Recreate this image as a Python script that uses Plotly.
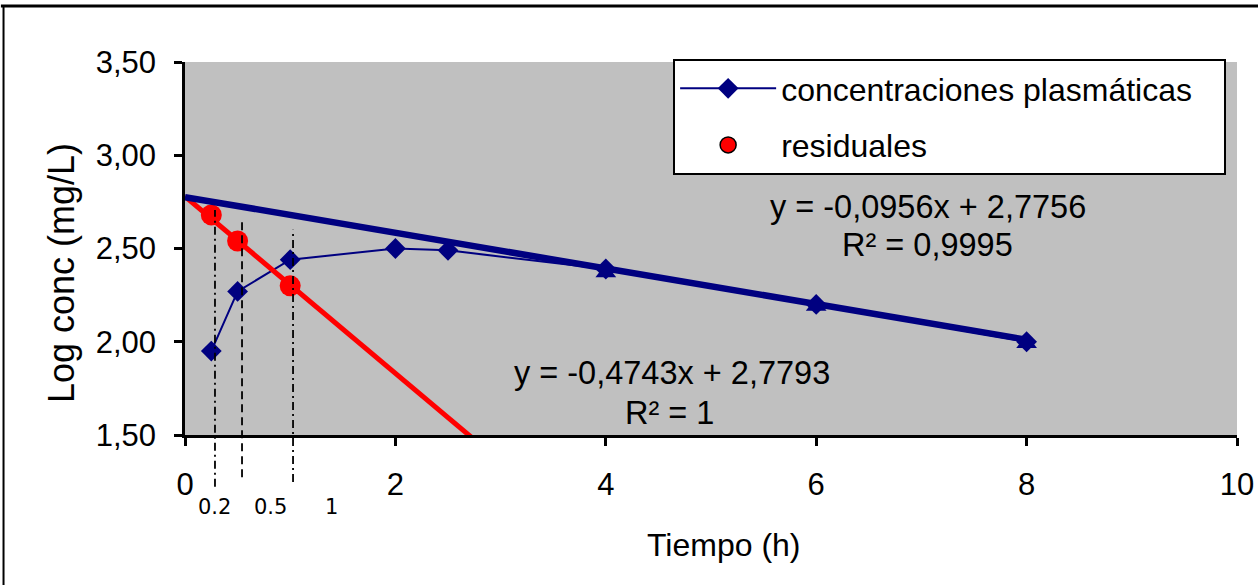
import plotly.graph_objects as go

# ---- data ----
time_h = [0.25, 0.5, 1, 2, 2.5, 4, 6, 8]
log_conc = [1.95, 2.27, 2.44, 2.50, 2.49, 2.39, 2.20, 2.00]

resid_t = [0.25, 0.5, 1]
resid_log = [2.68, 2.54, 2.30]

elim_t = [4, 6, 8]
elim_log = [2.37, 2.19, 1.99]

# trend lines (from the printed equations)
elim_fit_x = [0, 8]
elim_fit_y = [2.7756, 2.0108]
resid_fit_x = [0, 3]
resid_fit_y = [2.7793, 1.3564]

eq_elim = ["y = -0,0956x + 2,7756", "R² = 0,9995"]
eq_resid = ["y = -0,4743x + 2,7793", "R² = 1"]

guide_x = [0.285, 0.542, 1.027]
guide_top = [0.603, 0.584, 0.550]
guide_bot = [-0.139, -0.113, -0.126]
guide_dash = ["8px,4px,2px,4px", "8px,5px", "8px,4px,2px,4px"]

small_labels = ["0.2", "0.5", "1"]
small_label_x = [0.28, 0.81, 1.39]

NAVY = "#000080"
RED = "#FF0000"
FONT = "Liberation Sans, Arial, sans-serif"

fig = go.Figure()

fig.add_trace(go.Scatter(
    x=time_h, y=log_conc, mode="lines+markers",
    name="concentraciones plasmáticas\u00a0\u00a0\u00a0", legendgroup="a",
    line=dict(color=NAVY, width=2),
    marker=dict(symbol="diamond", size=16, color=NAVY),
))
fig.add_trace(go.Scatter(
    x=resid_fit_x, y=resid_fit_y, mode="lines", showlegend=False,
    line=dict(color=RED, width=5),
))
fig.add_trace(go.Scatter(
    x=resid_t, y=resid_log, mode="markers", showlegend=False,
    marker=dict(symbol="circle", size=21, color=RED),
))
fig.add_trace(go.Scatter(
    x=elim_fit_x, y=elim_fit_y, mode="lines", showlegend=False,
    line=dict(color=NAVY, width=6.5),
))
fig.add_trace(go.Scatter(
    x=elim_t, y=elim_log, mode="markers", showlegend=False,
    marker=dict(symbol="triangle-up", size=18, color=NAVY),
))
fig.add_trace(go.Scatter(
    x=[None], y=[None], mode="markers", name="residuales", legendgroup="b",
    marker=dict(symbol="circle", size=20, color=RED,
                line=dict(color="black", width=1.5)),
))

shapes = []
for gx, gt, gb, gd in zip(guide_x, guide_top, guide_bot, guide_dash):
    shapes.append(dict(type="line", xref="x", yref="paper",
                       x0=gx, x1=gx, y0=gb, y1=gt,
                       line=dict(color="black", width=1.8, dash=gd)))
# outer frame (top and left)
shapes.append(dict(type="line", xref="paper", yref="paper",
                   x0=-0.175, x1=1.03, y0=1.150, y1=1.150,
                   line=dict(color="black", width=3)))
shapes.append(dict(type="line", xref="paper", yref="paper",
                   x0=-0.1725, x1=-0.1725, y0=1.152, y1=-0.41,
                   line=dict(color="black", width=2)))

eqfont = dict(family=FONT, size=32.5, color="black")
annotations = [
    dict(text=eq_elim[0], x=7.06, y=2.722, xref="x", yref="y", showarrow=False,
         xanchor="center", yanchor="middle", font=eqfont),
    dict(text=eq_elim[1], x=7.06, y=2.519, xref="x", yref="y", showarrow=False,
         xanchor="center", yanchor="middle", font=eqfont),
    dict(text=eq_resid[0], x=4.63, y=1.832, xref="x", yref="y", showarrow=False,
         xanchor="center", yanchor="middle", font=eqfont),
    dict(text=eq_resid[1], x=4.61, y=1.618, xref="x", yref="y", showarrow=False,
         xanchor="center", yanchor="middle", font=eqfont),
    dict(text="Log conc (mg/L)", textangle=-90, x=-0.1179, y=0.434,
         xref="paper", yref="paper", showarrow=False,
         xanchor="center", yanchor="middle",
         font=dict(family=FONT, size=36, color="black")),
    dict(text="Tiempo (h)", x=0.512, y=-0.295, xref="paper", yref="paper",
         showarrow=False, xanchor="center", yanchor="middle",
         font=dict(family=FONT, size=32, color="black")),
]
for lbl, lx in zip(small_labels, small_label_x):
    annotations.append(dict(text=lbl, x=lx, y=-0.193, xref="x", yref="paper",
                            showarrow=False, xanchor="center", yanchor="middle",
                            font=dict(family="DejaVu Sans", size=21, color="black")))

fig.update_layout(
    width=1258, height=585,
    margin=dict(l=185, r=21, t=62, b=150, autoexpand=False),
    paper_bgcolor="white",
    plot_bgcolor="#C0C0C0",
    separators=",.",
    font=dict(family=FONT, size=31, color="black"),
    shapes=shapes,
    annotations=annotations,
    showlegend=True,
    legend=dict(
        x=0.464, y=1.008, xanchor="left", yanchor="top",
        bgcolor="white", bordercolor="black", borderwidth=2,
        font=dict(family=FONT, size=32, color="black"),
        traceorder="grouped", tracegroupgap=12, itemwidth=96,
    ),
    xaxis=dict(
        range=[0, 10], tickvals=[0, 2, 4, 6, 8, 10], ticktext=["0", "2", "4", "6", "8", "10"],
        showgrid=False, zeroline=False, showline=True, linecolor="black", linewidth=2.5,
        ticks="outside", ticklen=8, tickwidth=2.5, tickcolor="black", automargin=False,
        tickfont=dict(family=FONT, size=31, color="black"), ticklabelstandoff=12,
    ),
    yaxis=dict(
        range=[1.5, 3.5], tickvals=[1.5, 2.0, 2.5, 3.0, 3.5], tickformat=".2f",
        showgrid=False, zeroline=False, showline=True, linecolor="black", linewidth=2.5,
        ticks="outside", ticklen=8, tickwidth=2.5, tickcolor="black", automargin=False,
        tickfont=dict(family=FONT, size=31, color="black"), ticklabelstandoff=12,
    ),
)

fig.write_html("out.html", config={"displayModeBar": False},
               post_script="document.body.style.margin='0px';")
